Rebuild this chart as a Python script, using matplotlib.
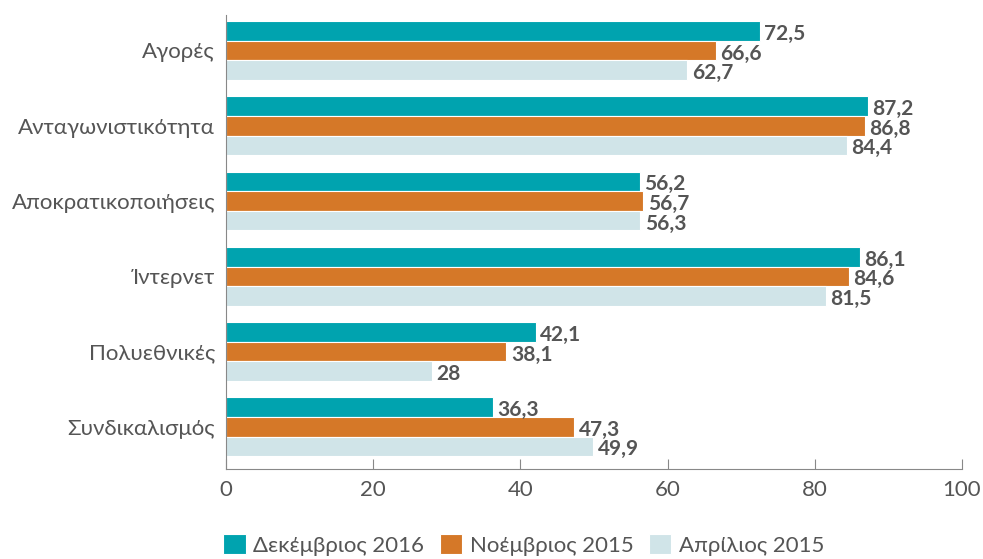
import matplotlib
matplotlib.use("Agg")
import matplotlib.pyplot as plt
import numpy as np

categories = ["Αγορές", "Ανταγωνιστικότητα", "Αποκρατικοποιήσεις", "Ίντερνετ", "Πολυεθνικές", "Συνδικαλισμός"]
series_names = ["Δεκέμβριος 2016", "Νοέμβριος 2015", "Απρίλιος 2015"]
dec2016 = [72.5, 87.2, 56.2, 86.1, 42.1, 36.3]
nov2015 = [66.6, 86.8, 56.7, 84.6, 38.1, 47.3]
apr2015 = [62.7, 84.4, 56.3, 81.5, 28, 49.9]
xticks = [0, 20, 40, 60, 80, 100]

colors = ["#00A3AF", "#D57828", "#D0E4E8"]
plt.rcParams['font.family'] = ['Lato', 'DejaVu Sans']

fig = plt.figure(figsize=(9.83, 5.59), dpi=100)
ax = fig.add_axes([0.23, 0.161, 0.7486, 0.812])

y = np.arange(len(categories))
h = 0.26
for i, (vals, name, c) in enumerate(zip([dec2016, nov2015, apr2015], series_names, colors)):
    pos = y + (i - 1) * h
    ax.barh(pos, vals, height=h, color=c, edgecolor="white", linewidth=0.8, label=name)
    for p, v in zip(pos, vals):
        lab = f"{v:g}".replace(".", ",")
        ax.text(v + 0.6, p + 0.04, lab, va="center", ha="left", fontsize=15,
                fontweight="bold", color="#555555")

ax.set_ylim(5.56, -0.47)
ax.set_xlim(0, 100)
ax.set_yticks(y)
ax.set_yticklabels(categories, fontsize=16, color="#555555")
ax.set_xticks(xticks)
ax.set_xticklabels([str(t) for t in xticks], fontsize=16, color="#555555")
ax.tick_params(axis="y", length=0, pad=8)
ax.tick_params(axis="x", direction="in", length=7, color="#888888", pad=8)
for s in ["top", "right"]:
    ax.spines[s].set_visible(False)
for s in ["left", "bottom"]:
    ax.spines[s].set_color("#888888")

fig.legend(loc="lower center", ncol=3, frameon=False, fontsize=16,
           handlelength=1.0, handleheight=1.0, handletextpad=0.35, columnspacing=0.7,
           bbox_to_anchor=(0.533, -0.03), labelcolor="#555555")

fig.savefig("out.png", dpi=100)
